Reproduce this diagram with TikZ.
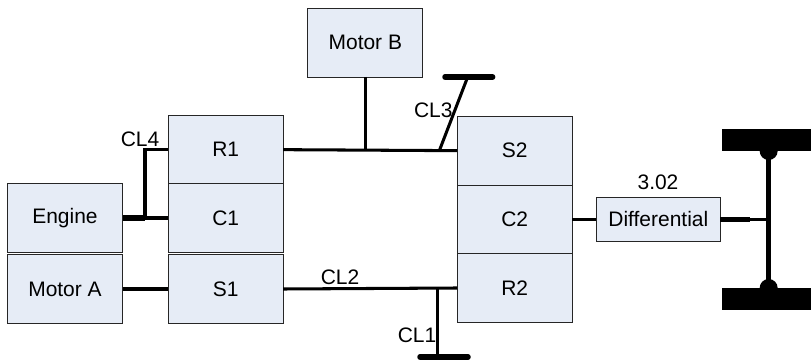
\documentclass[tikz,border=0pt]{standalone}
\usepackage{fontspec}
\setmainfont{Liberation Sans}
\definecolor{myfill}{HTML}{E6ECF6}
\colorlet{myedge}{black!85}
\tikzset{
  block/.style={draw=myedge, fill=myfill, line width=0.75pt, outer sep=0pt, inner sep=0pt,
    minimum width=3.45cm, minimum height=2.06cm, font=\fontsize{17.9}{20}\selectfont},
  label/.style={inner sep=0pt, font=\fontsize{17.9}{20}\selectfont},
  shaft/.style={line width=2.6pt},
  thickshaft/.style={line width=4.3pt},
  brake/.style={line width=4.7pt, line cap=round},
  wheel/.style={fill=black, outer sep=0pt, inner sep=0pt, minimum width=2.66cm, minimum height=0.65cm}
}
\begin{document}
\begin{tikzpicture}
      \useasboundingbox (0cm,0cm) rectangle (24.33cm,-10.86cm);
      \node[block] (engine) at (1.95cm,-6.54cm) {Engine};
      \node[block] (motora) at (1.95cm,-8.67cm) {Motor A};
      \node[block] (r1) at (6.77cm,-4.49cm) {R1};
      \node[block] (c1) at (6.77cm,-6.54cm) {C1};
      \node[block] (s1) at (6.77cm,-8.67cm) {S1};
      \node[block] (motorb) at (10.96cm,-1.28cm) {Motor B};
      \node[block] (s2) at (15.44cm,-4.52cm) {S2};
      \node[block] (c2) at (15.44cm,-6.58cm) {C2};
      \node[block] (r2) at (15.44cm,-8.64cm) {R2};
      \node[block, minimum width=3.72cm, minimum height=1.31cm] (diff) at (19.75cm,-6.58cm) {Differential};
      \node[wheel] (wheeltop) at (23cm,-4.2cm) {};
      \node[wheel] (wheelbot) at (23cm,-8.96cm) {};

      \coordinate (axletop) at (23.06cm,-4.53cm);
      \coordinate (axlebot) at (23.06cm,-8.64cm);
      \coordinate (axlemid) at (axletop |- diff.east);
      \coordinate (diffstep) at (22.5cm,-6.58cm);
      \coordinate (cl4low) at (4.35cm,-6.54cm);
      \coordinate (cl4up) at (4.35cm,-4.49cm);
      \coordinate (cl3foot) at (13.18cm,-4.52cm);
      \coordinate (cl3top) at (14.03cm,-2.31cm);
      \coordinate (cl3left) at (13.35cm,-2.31cm);
      \coordinate (cl3right) at (14.78cm,-2.31cm);
      \coordinate (cl1foot) at (13.13cm,-8.64cm);
      \coordinate (cl1low) at (13.13cm,-10.71cm);
      \coordinate (cl1left) at (12.6cm,-10.71cm);
      \coordinate (cl1right) at (14.04cm,-10.71cm);

      \draw[shaft] (engine.east) -- (c1.west) (motora.east) -- (s1.west);
      \draw[thickshaft] (engine.east) -- (cl4low);
      \draw[shaft] (cl4low) -- (cl4up) -- (r1.west);
      \draw[shaft] (r1.east) -- (s2.west) (s1.east) -- (r2.west);
      \draw[shaft] (motorb.south) -- (motorb.south |- s2.west);
      \draw[shaft] (cl3foot) -- (cl3top);
      \draw[brake] (cl3left) -- (cl3right);
      \draw[shaft] (cl1foot) -- (cl1low);
      \draw[brake] (cl1left) -- (cl1right);
      \draw[shaft] (c2.east) -- (diff.west);
      \draw[thickshaft] (diff.east) -- (diffstep);
      \draw[shaft] (diffstep) -- (axlemid);

      \draw[line width=4.4pt] (axletop) -- (axlebot);
      \fill foreach \s in {axletop,axlebot}{(\s) circle [radius=0.27cm]};

      \node[label] (cl4) at (4.2cm,-4.17cm) {CL4};
      \node[label] (cl3) at (13cm,-3.3cm) {CL3};
      \node[label] (cl2) at (10.2cm,-8.33cm) {CL2};
      \node[label] (cl1) at (12.51cm,-10.07cm) {CL1};
      \node[label] (ratio) at (19.74cm,-5.48cm) {3.02};
    \end{tikzpicture}
\end{document}
